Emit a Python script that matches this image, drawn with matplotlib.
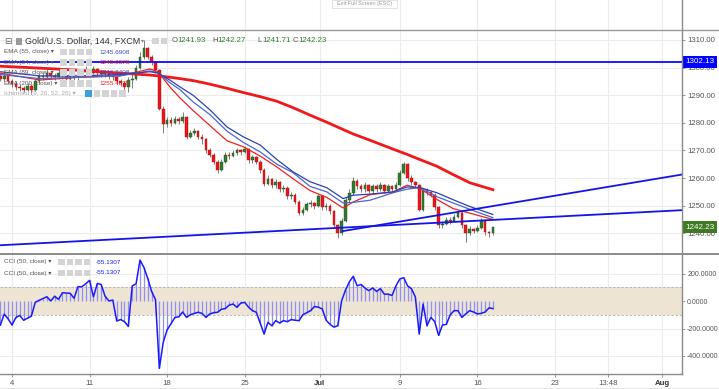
import numpy as np
import matplotlib
matplotlib.use('Agg')
import matplotlib.pyplot as plt
from matplotlib.patches import Rectangle
from matplotlib.lines import Line2D
import matplotlib.transforms as mtransforms

plt.rcParams['font.family'] = ['Liberation Sans', 'DejaVu Sans']

W, H = 719, 389

# candles every 0.25 trading day, day 0 = Mon 4 Jun
first_day = -0.75
step = 0.25
open_first = 1297.0
close = [1296, 1297, 1295, 1294, 1293, 1292.5, 1292, 1293.5, 1292, 1295,
         1297, 1296.5, 1298, 1297, 1296.5, 1298, 1297, 1296, 1297.5, 1296.5,
         1297, 1298.5, 1299, 1298, 1299.5, 1298, 1297.5, 1298, 1297, 1296.5,
         1295, 1294.5, 1293, 1295.5, 1296, 1300, 1304, 1307, 1304, 1302,
         1299, 1285, 1279.5, 1281, 1280, 1281.5, 1280.5, 1282, 1275, 1276.5,
         1277, 1275, 1274, 1270, 1268.5, 1266, 1263, 1266, 1268.5, 1268,
         1269, 1270, 1269.5, 1270.5, 1266.5, 1267.5, 1266, 1263, 1258, 1259.5,
         1257.5, 1258.5, 1256, 1256.5, 1253.5, 1254, 1251.5, 1247.5, 1248.5, 1250.5,
         1251, 1250, 1253.5, 1249.5, 1250, 1248, 1243, 1240, 1244.5, 1252,
         1254.5, 1259, 1257, 1256, 1257.5, 1255.5, 1257, 1256, 1257.5, 1255.5,
         1257, 1256, 1257.5, 1262, 1265, 1260, 1258.5, 1257.5, 1248.5, 1255.5,
         1255, 1254, 1249.5, 1243, 1243.5, 1245, 1244.5, 1246, 1247.5, 1243,
         1240, 1241.5, 1241, 1242, 1244.5, 1240.5, 1240, 1242.23]
high = [1298, 1298, 1297.5, 1296, 1295, 1294, 1293.5, 1294.5, 1294, 1296,
        1298, 1298, 1299, 1298.5, 1298, 1299.5, 1298.5, 1297.5, 1298.5, 1298,
        1298, 1299.5, 1300.5, 1299.5, 1300.5, 1300, 1298.5, 1299, 1298.5, 1297.5,
        1297, 1296, 1295, 1296.5, 1297.5, 1301, 1305.5, 1310, 1307.5, 1304.5,
        1302.5, 1299.5, 1286, 1282, 1282, 1282.5, 1282, 1283.8, 1282.5, 1277.5,
        1278, 1277.5, 1276, 1274.5, 1271, 1269, 1266.5, 1267, 1269.5, 1269.5,
        1270, 1271, 1270.5, 1271.5, 1271, 1268.5, 1268, 1266.5, 1263.5, 1261,
        1260, 1259.5, 1259, 1257.5, 1257, 1255, 1254.5, 1252, 1249.5, 1251.5,
        1252, 1251.5, 1254.2, 1254, 1251, 1250.5, 1248.5, 1243.5, 1245.5, 1253,
        1256, 1260.5, 1259.5, 1258, 1258.5, 1258, 1258, 1258, 1258.5, 1258,
        1258, 1257.5, 1258.5, 1263, 1266, 1265.5, 1261, 1259, 1258, 1256,
        1256.5, 1255.5, 1254.5, 1250, 1244.5, 1246, 1246, 1247, 1248.5, 1248,
        1243.5, 1242.5, 1242, 1243, 1245.5, 1245, 1241, 1242.27]
low = [1295, 1295, 1294, 1293, 1292, 1291.5, 1291, 1291.5, 1290.5, 1291.5,
       1294.5, 1295.5, 1296, 1296, 1295.5, 1296, 1296, 1294.5, 1295.5, 1295.5,
       1295.5, 1296.5, 1298, 1297, 1297.5, 1297, 1296.5, 1296.5, 1296, 1295.5,
       1294, 1293.5, 1292, 1291, 1292.5, 1295.5, 1299.5, 1303, 1303, 1301,
       1298, 1284.5, 1276.5, 1278.5, 1279, 1279.5, 1279.5, 1280, 1274, 1274.5,
       1275.5, 1274, 1272.5, 1269, 1267.5, 1265, 1262, 1262.5, 1265.5, 1267,
       1267.5, 1268.5, 1268.5, 1269, 1265.5, 1265.5, 1265, 1262, 1257, 1257.5,
       1256.5, 1256.5, 1255, 1255, 1252.5, 1252.5, 1250.5, 1246.5, 1246.5, 1248,
       1249.5, 1249, 1249.5, 1248.5, 1248.5, 1247, 1242, 1238.5, 1239.5, 1244,
       1251.5, 1254, 1256, 1255, 1255, 1254.5, 1254.5, 1255, 1255.5, 1254.5,
       1255, 1255, 1255.5, 1257, 1261.5, 1259, 1257.5, 1256.5, 1248, 1248,
       1254, 1253, 1248.5, 1242, 1242, 1243, 1243.5, 1244, 1245.5, 1242,
       1237, 1239.5, 1240, 1240.5, 1241.5, 1239.5, 1238.7, 1239.5]

# CCI(50) per candle
cci = [-175, -95, -130, -175, -120, -105, -140, -125, -110, -10,
       5, 18, 31, 0, 35, 12, 60, 58, 56, 20,
       104, 104, 125, 150, 30, 128, 120, 35, 0, 7,
       -145, -135, -150, -185, 110, 125, 298, 245, 165, 70,
       10, -490, -300, -210, -165, -120, -115, -80, -119, -100,
       -90, -82, -90, -119, -94, -85, -82, -60, -55, -30,
       -22, -46, -15, -10, -45, -70, -82, -160, -240, -155,
       -180, -143, -160, -143, -150, -135, -140, -143, -100, -85,
       -70, -40, -45, -58, -140, -170, -190, -180, 2, 80,
       140, 180, 111, 120, 95, 75, 95, 70, 90, 50,
       50, 40, 110, 160, 170, 110, 90, 30, -240, -22,
       -180, -119, -150, -250, -175, -170, -100, -70, -70, -119,
       -94, -70, -80, -94, -90, -80, -50, -55.13]

# moving averages
ma_days = [-0.77, 1.8, 4.38, 6.96, 8.9, 9.41, 10.18, 10.83, 11.67, 12.76, 13.86,
           14.89, 15.99, 17.08, 18.11, 19.21, 20.3, 21.34, 21.98, 23.08, 24.56,
           25.46, 26.3, 27.39, 28.43, 29.52, 31.0]
ema_200 = [1300.5, 1299.8, 1299.0, 1298.0, 1297.3, 1297.0, 1296.5, 1296.0, 1295.3,
           1294.0, 1292.5, 1291.0, 1289.5, 1287.8, 1285.5, 1282.8, 1280.2, 1277.6,
           1276.0, 1273.7, 1270.5, 1268.6, 1266.7, 1264.3, 1261.3, 1258.3, 1255.8]
ema_34 = [1298, 1295.5, 1296.5, 1297, 1299.5, 1298.5, 1293, 1289, 1284.5, 1279,
          1273.5, 1271.4, 1268.0, 1264, 1259.8, 1255.5, 1253, 1249.2, 1251.3, 1254,
          1255, 1257.4, 1256.2, 1252.3, 1249, 1247.3, 1245.04]
ema_55 = [1297.5, 1296, 1296.5, 1297, 1298.8, 1298.2, 1294.5, 1292, 1287.6, 1283,
          1277, 1273, 1269.5, 1265, 1262, 1257, 1255, 1251, 1251.2, 1252, 1254.7,
          1256, 1256.6, 1253.3, 1251, 1248.7, 1245.69]
ema_89 = [1298.5, 1297, 1297, 1297.5, 1298.5, 1298, 1295.5, 1293, 1290, 1284.7,
          1278.5, 1275, 1272, 1266.7, 1262.3, 1258.7, 1256.5, 1252.6, 1253.8, 1254.2,
          1255, 1256.8, 1256.6, 1254.7, 1252.2, 1249.7, 1246.84]

resistance = 1302.13
trend_low_days = [-0.77, 43.19]
trend_low_px = [1235.7, 1248.4]
trend_up_days = [21.3, 43.19]
trend_up_px = [1240.8, 1261.3]
last_price = 1242.23

tick_days = [0, 5, 10, 15, 19.85, 25, 30, 35, 38.4, 41.9]
tick_labels = ['4', '11', '18', '25', 'Jul', '9', '16', '23', '13:48', 'Aug']
price_ticks = [1240, 1250, 1260, 1270, 1280, 1290, 1300, 1310]
cci_ticks = [200, 0, -200, -400]

days = first_day + step * np.arange(len(close))
c = np.array(close)
o = np.array([open_first] + close[:-1])
up = c >= o

fig = plt.figure(figsize=(W / 100, H / 100), dpi=100)
fig.patch.set_facecolor('white')

def fx(x):
    return x / W

def fy(y):
    return 1 - y / H

xlim = (-0.773, 43.19)
grid_c = '#ececec'

ax_top = fig.add_axes([0, fy(30), fx(682), 30 / H])
ax = fig.add_axes([0, fy(253), fx(682), (253 - 30) / H])
axc = fig.add_axes([0, fy(374), fx(682), (374 - 254) / H])

for a in (ax_top, ax, axc):
    a.set_xlim(*xlim)
    a.set_xticks(tick_days)
    a.grid(axis='x', color=grid_c, lw=0.8)
    for s in a.spines.values():
        s.set_visible(False)
    a.set_axisbelow(True)

ax_top.set_yticks([])
ax_top.tick_params(axis='x', length=0, labelbottom=False)

# --- price panel
ax.set_ylim(1232.9, 1313.6)
ax.yaxis.tick_right()
ax.set_yticks(price_ticks)
ax.set_yticklabels(['%.2f' % p for p in price_ticks])
ax.tick_params(axis='y', length=2.5, width=0.6, color='#888888', pad=1.5,
               labelsize=5.6, labelcolor='#555555')
ax.tick_params(axis='x', length=0, labelbottom=False)
ax.grid(axis='y', color=grid_c, lw=0.8)

ax.vlines(days, low, high, color='#7d7d7d', lw=0.7, zorder=2)
ax.bar(days[up], (c - o)[up], bottom=o[up], width=0.17, color='#2f7d2f',
       edgecolor='#1e4d1e', lw=0.3, zorder=3)
ax.bar(days[~up], (c - o)[~up], bottom=o[~up], width=0.17, color='#e8161b',
       edgecolor='#b01010', lw=0.3, zorder=3)

ax.plot(ma_days, ema_200, color='#f01818', lw=2.0, zorder=4)
ax.plot(ma_days, ema_34, color='#f22020', lw=0.9, zorder=4)
ax.plot(ma_days, ema_55, color='#4a66d0', lw=0.9, zorder=4)
ax.plot(ma_days, ema_89, color='#2c43b0', lw=0.9, zorder=4)

ax.axhline(resistance, color='#0a0aff', lw=1.3, zorder=4)
ax.plot(trend_low_days, trend_low_px, color='#1414e6', lw=1.3, zorder=4)
ax.plot(trend_up_days, trend_up_px, color='#1414e6', lw=1.3, zorder=4)

tr = mtransforms.blended_transform_factory(ax.transAxes, ax.transData)
ax.text(1.0 + 3.5 / 682, resistance, '%.2f' % resistance, transform=tr, ha='left',
        va='center', fontsize=5.8, color='white', zorder=10, clip_on=False,
        bbox=dict(boxstyle='square,pad=0.3', facecolor='#0000ff', edgecolor='none'))
ax.text(1.0 + 3.5 / 682, last_price, '%.2f' % last_price, transform=tr, ha='left',
        va='center', fontsize=5.8, color='white', zorder=10, clip_on=False,
        bbox=dict(boxstyle='square,pad=0.3', facecolor='#3d7a22', edgecolor='none'))

# --- CCI panel
axc.set_ylim(-531, 342)
axc.yaxis.tick_right()
axc.set_yticks(cci_ticks)
axc.set_yticklabels(['%.4f' % v for v in cci_ticks])
axc.tick_params(axis='y', length=2.5, width=0.6, color='#888888', pad=1.2,
                labelsize=5.0, labelcolor='#555555')
axc.tick_params(axis='x', length=2, width=0.6, color='#888888', pad=2,
                labelsize=5.6, labelcolor='#555555')
axc.set_xticklabels(tick_labels)
for lab in axc.get_xticklabels():
    if lab.get_text() in ('Jul', 'Aug'):
        lab.set_fontweight('bold')
        lab.set_color('#333333')
axc.grid(axis='y', color=grid_c, lw=0.8)
axc.axhspan(-100, 100, facecolor='#ede4d3', edgecolor='none', zorder=1)
axc.axhline(100, color='#b0b0b0', lw=0.6, ls=(0, (3, 2)), zorder=1.5)
axc.axhline(-100, color='#b0b0b0', lw=0.6, ls=(0, (3, 2)), zorder=1.5)
axc.vlines(days, 0, cci, color='#8f8ff5', lw=0.9, zorder=2)
axc.plot(days, cci, color='#1a1aff', lw=1.1, zorder=3)

# frame lines
def hline(y, x0, x1, color, lw):
    fig.add_artist(Line2D([fx(x0), fx(x1)], [fy(y), fy(y)], color=color, lw=lw,
                          transform=fig.transFigure))

def vline(x, y0, y1, color, lw):
    fig.add_artist(Line2D([fx(x), fx(x)], [fy(y0), fy(y1)], color=color, lw=lw,
                          transform=fig.transFigure))

hline(30, 0, W, '#9a9a9a', 1.0)
hline(253.5, 0, W, '#8a8a8a', 1.4)
hline(374, 0, 682, '#8a8a8a', 1.0)
hline(388, 0, W, '#e6e6e6', 0.8)
vline(682, 0, 374, '#8a8a8a', 1.0)

# exit full screen hint
fig.add_artist(Rectangle((fx(332), fy(8)), (397 - 332) / W, 8 / H, transform=fig.transFigure,
                         facecolor='white', edgecolor='#dddddd', lw=0.6))
fig.text(fx(364.5), fy(4), 'Exit Full Screen (ESC)', ha='center', va='center',
         fontsize=4, color='#999999')

# legends
def put(x, y, s, size=4.6, color='#555555', **kw):
    fig.text(fx(x), fy(y), s, ha='left', va='center', fontsize=size, color=color,
             zorder=20, **kw)

def icons(x0, y, n, first=None):
    for i in range(n):
        col = first if (first and i == 0) else '#d4d4d4'
        fig.add_artist(Rectangle((fx(x0 + i * 8.6), fy(y + 3.3)), 6.6 / W, 6.6 / H,
                                 transform=fig.transFigure, facecolor=col,
                                 edgecolor='none', zorder=20))

put(4, 41, '\u229f', size=6.5, color='#666666')
fig.add_artist(Rectangle((fx(16), fy(44.5)), 6 / W, 7 / H, transform=fig.transFigure,
                         facecolor='#9a9a9a', edgecolor='none', zorder=20))
put(25, 41, 'Gold/U.S. Dollar, 144, FXCM', size=6.5, color='#333333')
put(141, 41, '\u25be', size=4.5, color='#888888')
icons(152, 41, 2)
for lx, letter, val in [(172, 'O', '1241.93'), (212, 'H', '1242.27'),
                        (257, 'L', '1241.71'), (293, 'C', '1242.23')]:
    put(lx, 41, letter, size=5.6, color='#555555')
    put(lx + 5.5, 41, val, size=5.6, color='#2e7d32')

rows = [('EMA (55, close)', '1245.6908', '#3b4fc8'),
        ('EMA (34, close)', '1245.0378', '#f01818'),
        ('EMA (89, close)', '1246.8408', '#3b4fc8'),
        ('EMA (200, close)', '1255.4875', '#f01818')]
for i, (name, val, col) in enumerate(rows):
    yy = 52 + i * 10.4
    put(4, yy, name + ' \u25be')
    icons(60, yy, 4)
    put(99, yy, val, color=col)
put(4, 93.5, 'Ichimoku (9, 26, 52, 26) \u25be', color='#aaaaaa')
icons(85, 93.5, 5, first='#3aa0e0')

for yy in (262, 273):
    put(4, yy, 'CCI (50, close) \u25be')
    icons(58, yy, 4)
    put(96, yy, '-55.1307', color='#1a1aff')

fig.savefig('out.png', dpi=100, facecolor='white')
